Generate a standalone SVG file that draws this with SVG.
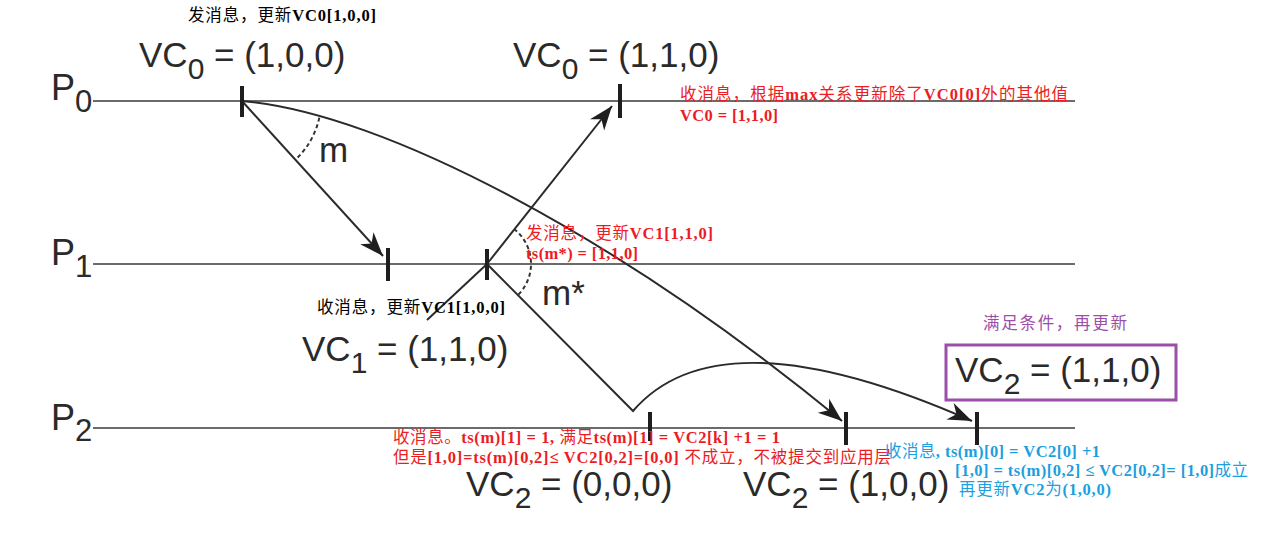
<svg xmlns="http://www.w3.org/2000/svg" width="1262" height="545" viewBox="0 0 1262 545">
<style>
.tl{stroke:#3a3a3a;stroke-width:1.6;fill:none}
.tick{stroke:#1e1e1e;stroke-width:4}
.msg{stroke:#2a2a2a;stroke-width:2;fill:none}
.dash{stroke:#333;stroke-width:2;fill:none;stroke-dasharray:4 3}
.vc{font-family:"Liberation Sans",Arial,sans-serif;font-size:35px;fill:#2a2a2a}
.pl{font-family:"Liberation Sans",Arial,sans-serif;font-size:36px;fill:#2a2a2a}
.ann{font-family:"Liberation Serif","Noto Sans CJK SC",serif;font-size:16.5px}
.b{font-weight:bold}
.red{fill:#ec1c24}
.blk{fill:#000}
.blue{fill:#1c9fdf}
.pur{fill:#9b4fa8}
</style>
<defs>
<marker id="ah" markerUnits="userSpaceOnUse" viewBox="-26 -11 28 22" refX="0" refY="0" markerWidth="28" markerHeight="22" orient="auto" overflow="visible">
<path d="M0,0 L-24,-9 L-17,0 L-24,9 Z" fill="#1e1e1e"/>
</marker>
</defs>
<rect width="1262" height="545" fill="#fff"/>

<g id="timelines">
<line class="tl" x1="93" y1="101" x2="1075" y2="101"/>
<line class="tl" x1="93" y1="264" x2="1075" y2="264"/>
<line class="tl" x1="93" y1="428" x2="1075" y2="428"/>
<text class="pl" x="51" y="100">P<tspan dy="12" font-size="31">0</tspan></text>
<text class="pl" x="51" y="265">P<tspan dy="12" font-size="31">1</tspan></text>
<text class="pl" x="51" y="430">P<tspan dy="11" font-size="31">2</tspan></text>
</g>

<g id="connectors">
<line class="msg" x1="242" y1="101" x2="383" y2="256" marker-end="url(#ah)"/>
<path class="msg" d="M242,101 C385,113 622,240 842,421" marker-end="url(#ah)"/>
<line class="msg" x1="487" y1="264" x2="612" y2="106" marker-end="url(#ah)"/>
<line class="msg" x1="427" y1="320" x2="487" y2="264"/>
<path class="msg" d="M487,264 L633,411 Q720,310 972,421" marker-end="url(#ah)"/>
<path class="dash" d="M319.3,117.6 A80,80 0 0,1 295.6,159.5"/>
<path class="dash" d="M514,229 A44,44 0 0,1 518,295"/>
</g>

<g id="ticks">
<line class="tick" x1="242" y1="86" x2="242" y2="117"/>
<line class="tick" x1="620" y1="84" x2="620" y2="118"/>
<line class="tick" x1="388" y1="248" x2="388" y2="281"/>
<line class="tick" x1="487" y1="249" x2="487" y2="280"/>
<line class="tick" x1="650" y1="412" x2="650" y2="441"/>
<line class="tick" x1="846" y1="412" x2="846" y2="445"/>
<line class="tick" x1="977" y1="412" x2="977" y2="445"/>
</g>

<g id="msg-labels">
<text class="vc" x="319" y="162" font-size="34">m</text>
<text class="vc" x="542" y="305" font-size="34">m*</text>
</g>

<g id="vc-labels">
<text class="vc" x="139" y="67">VC<tspan dy="12" font-size="30">0</tspan><tspan dy="-12"> = (1,0,0)</tspan></text>
<text class="vc" x="513" y="67">VC<tspan dy="12" font-size="30">0</tspan><tspan dy="-12"> = (1,1,0)</tspan></text>
<text class="vc" x="302" y="361">VC<tspan dy="12" font-size="30">1</tspan><tspan dy="-12"> = (1,1,0)</tspan></text>
<text class="vc" x="466" y="496">VC<tspan dy="12" font-size="30">2</tspan><tspan dy="-12"> = (0,0,0)</tspan></text>
<text class="vc" x="743" y="496">VC<tspan dy="12" font-size="30">2</tspan><tspan dy="-12"> = (1,0,0)</tspan></text>
</g>

<g id="vc2-final">
<rect x="946" y="345" width="230" height="55" fill="none" stroke="#9b4fa8" stroke-width="3"/>
<text class="vc" x="955" y="382">VC<tspan dy="12" font-size="30">2</tspan><tspan dy="-12"> = (1,1,0)</tspan></text>
<text class="ann pur" x="983" y="329" textLength="144" lengthAdjust="spacing">满足条件，再更新</text>
</g>

<g id="annotations">
<text class="ann blk" x="188" y="21" textLength="188" lengthAdjust="spacing">发消息，更新<tspan class="b">VC0[1,0,0]</tspan></text>
<text class="ann red" x="680" y="100" textLength="388" lengthAdjust="spacing">收消息，根据<tspan class="b">max</tspan>关系更新除了<tspan class="b">VC0[0]</tspan>外的其他值</text>
<text class="ann red b" x="680" y="121" textLength="98" lengthAdjust="spacing">VC0 = [1,1,0]</text>
<text class="ann red" x="526" y="239" textLength="187" lengthAdjust="spacing">发消息，更新<tspan class="b">VC1[1,1,0]</tspan></text>
<text class="ann red b" x="526" y="259" textLength="112" lengthAdjust="spacing">ts(m*) = [1,1,0]</text>
<text class="ann blk" x="317" y="313" textLength="188" lengthAdjust="spacing">收消息，更新<tspan class="b">VC1[1,0,0]</tspan></text>
<text class="ann red" x="393" y="443" textLength="387" lengthAdjust="spacing">收消息。<tspan class="b">ts(m)[1] = 1, </tspan>满足<tspan class="b">ts(m)[1] = VC2[k] +1 = 1</tspan></text>
<text class="ann red" x="393" y="463" textLength="498" lengthAdjust="spacing">但是<tspan class="b">[1,0]=ts(m)[0,2]≤ VC2[0,2]=[0,0] </tspan>不成立，不被提交到应用层</text>
<text class="ann blue" x="885" y="457" textLength="215" lengthAdjust="spacing">收消息<tspan class="b">, ts(m)[0] = VC2[0] +1</tspan></text>
<text class="ann blue" x="955" y="476" textLength="293" lengthAdjust="spacing"><tspan class="b">[1,0] = ts(m)[0,2] ≤ VC2[0,2]= [1,0]</tspan>成立</text>
<text class="ann blue" x="959" y="495" textLength="152" lengthAdjust="spacing">再更新<tspan class="b">VC2</tspan>为<tspan class="b">(1,0,0)</tspan></text>
</g>
</svg>
